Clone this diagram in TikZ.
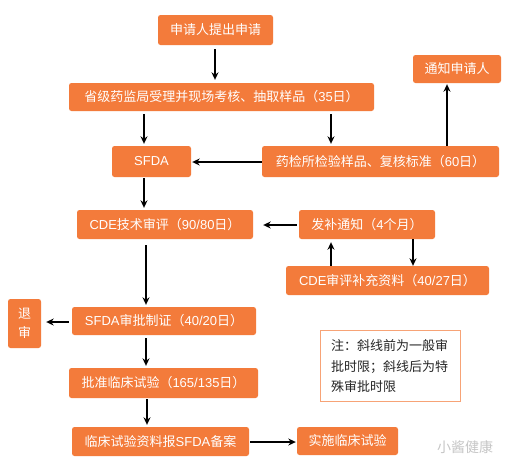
\documentclass[tikz,border=0pt]{standalone}
\usepackage{fontspec}
\setmainfont{Noto Sans CJK SC}
\newfontfamily\latf{Liberation Sans}
\usetikzlibrary{arrows.meta}
\definecolor{boxorange}{HTML}{F37B3B}
\definecolor{notetext}{HTML}{262626}
\begin{document}
\begin{tikzpicture}[x=1pt,y=-1pt,
  ob/.style={fill=boxorange, rounded corners=2.5pt, text=white, font=\fontsize{13}{15}\selectfont, inner sep=0pt, anchor=center},
  arr/.style={draw=black, line width=1.1pt, -{Stealth[length=7.5pt,width=7pt]}}
]
\useasboundingbox (0,0) rectangle (505,472);
\fill[white] (0,0) rectangle (505,472);

\node[ob, minimum width=115pt, minimum height=30pt] (apply) at (215.5,30) {申请人提出申请};
\node[ob, minimum width=305pt, minimum height=28pt] (sheng) at (221.5,97) {省级药监局受理并现场考核、抽取样品（{\latf 35}日）};
\node[ob, minimum width=88pt, minimum height=28pt] (notify) at (457,69) {通知申请人};
\node[ob, minimum width=79pt, minimum height=31pt] (sfda) at (151.5,161.5) {\latf SFDA};
\node[ob, minimum width=237pt, minimum height=31pt] (yaojian) at (380.5,161.5) {药检所检验样品、复核标准（{\latf 60}日）};
\node[ob, minimum width=176pt, minimum height=29pt] (cde) at (165,224.5) {{\latf CDE}技术审评（{\latf 90/80}日）};
\node[ob, minimum width=136pt, minimum height=29pt] (fabu) at (367,224.5) {发补通知（{\latf 4}个月）};
\node[ob, minimum width=203pt, minimum height=29pt] (buchong) at (387.5,280.5) {{\latf CDE}审评补充资料（{\latf 40/27}日）};
\node[ob, minimum width=33pt, minimum height=49pt, align=center, font=\fontsize{13}{19}\selectfont] (tuishen) at (24.5,323.5) {退\\审};
\node[ob, minimum width=184pt, minimum height=28pt] (shenpi) at (164,321) {{\latf SFDA}审批制证（{\latf 40/20}日）};
\node[ob, minimum width=189pt, minimum height=30pt] (pizhun) at (163.5,383) {批准临床试验（{\latf 165/135}日）};
\node[ob, minimum width=177pt, minimum height=29pt] (beian) at (160.5,441.5) {临床试验资料报{\latf SFDA}备案};
\node[ob, minimum width=101pt, minimum height=28pt] (shishi) at (347.5,441) {实施临床试验};

\node[draw=boxorange!70, line width=0.8pt, fill=white, minimum width=140pt, minimum height=71pt, inner sep=0pt] (note) at (390,365.5) {};
\node[anchor=west, align=left, text=notetext, inner sep=0pt, font=\fontsize{13}{20.5}\selectfont] (notetxt) at (331,366.5) {注：斜线前为一般审\\批时限；斜线后为特\\殊审批时限};

\node[text=gray!45, font=\fontsize{14}{16}\selectfont, inner sep=0pt] (wm) at (465,447) {小酱健康};

% connectors
\draw[arr, shorten >=3pt, shorten <=4pt] (apply.south -| 215,0) -- (sheng.north -| 215,0);
\draw[arr, shorten >=2pt, shorten <=3pt] (sheng.south -| 144,0) -- (sfda.north -| 144,0);
\draw[arr, shorten >=2pt, shorten <=3pt] (sheng.south -| 331,0) -- (yaojian.north -| 331,0);
\draw[arr, shorten >=1pt] (yaojian.north -| 447,0) -- (notify.south -| 447,0);
\draw[arr, shorten >=1pt] (yaojian.west |- 0,162) -- (sfda.east |- 0,162);
\draw[arr, shorten >=2pt, shorten <=1pt] (sfda.south -| 144,0) -- (cde.north -| 144,0);
\draw[arr, shorten >=10pt, shorten <=2pt] (fabu.west |- 0,225) -- (cde.east |- 0,225);
\draw[arr, shorten >=3pt] (buchong.north -| 331,0) -- (fabu.south -| 331,0);
\draw[arr] (fabu.south -| 413,0) -- (buchong.north -| 413,0);
\draw[arr, shorten >=2pt, shorten <=6pt] (cde.south -| 146,0) -- (shenpi.north -| 146,0);
\draw[arr, shorten >=5pt, shorten <=3pt] (shenpi.west |- 0,322) -- (tuishen.east |- 0,322);
\draw[arr, shorten >=2pt, shorten <=3pt] (shenpi.south -| 146,0) -- (pizhun.north -| 146,0);
\draw[arr, shorten >=2pt, shorten <=1pt] (pizhun.south -| 147,0) -- (beian.north -| 147,0);
\draw[arr, shorten >=1pt, shorten <=1pt] (beian.east |- 0,442) -- (shishi.west |- 0,442);
\end{tikzpicture}
\end{document}
